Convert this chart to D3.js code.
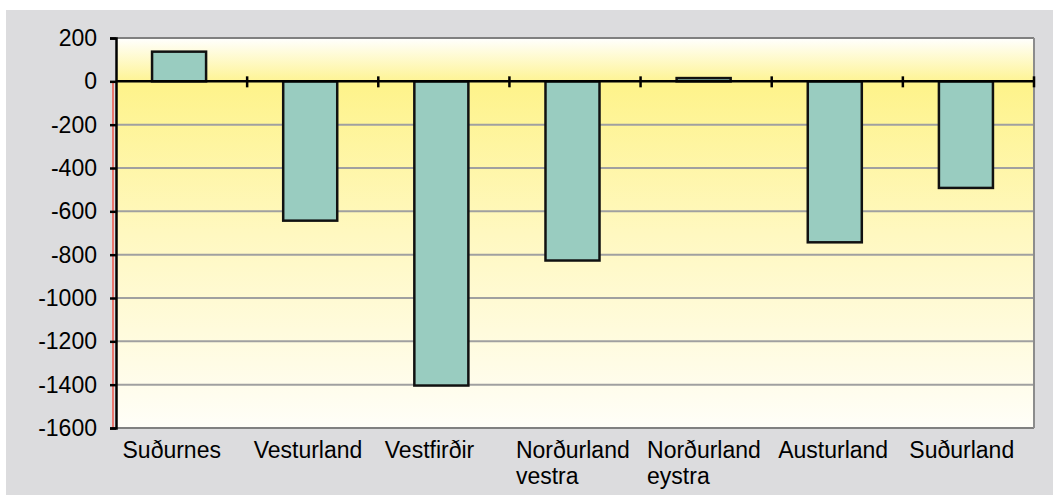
<!DOCTYPE html>
<html>
<head>
<meta charset="utf-8">
<script src="https://cdn.jsdelivr.net/npm/d3@7"></script>
<style>
  body { margin: 0; background: #fff; }
  text { font-family: "Liberation Sans", Arial, sans-serif; fill: #000; }
</style>
</head>
<body>
<script>
// regions and their values
var regions = ["Suðurnes", "Vesturland", "Vestfirðir", "Norðurland vestra", "Norðurland eystra", "Austurland", "Suðurland"];
var values = [137, -643, -1404, -827, 15, -743, -492];
var yTicks = [200, 0, -200, -400, -600, -800, -1000, -1200, -1400, -1600];

var width = 1053, height = 495;
var plotLeft = 116, plotRight = 1034, plotTop = 38, plotBottom = 428;
var fontSize = 23;

var svg = d3.select("body").append("svg")
    .attr("width", width)
    .attr("height", height);

// grey frame
svg.append("rect")
    .attr("x", 6).attr("y", 10)
    .attr("width", width - 6).attr("height", height - 10)
    .attr("fill", "#dcdcde");

var defs = svg.append("defs");
var grad = defs.append("linearGradient")
    .attr("id", "bg").attr("x1", 0).attr("y1", 0).attr("x2", 0).attr("y2", 1);
grad.append("stop").attr("offset", "0").attr("stop-color", "#ffffff");
grad.append("stop").attr("offset", "0.12").attr("stop-color", "#fef38b");
grad.append("stop").attr("offset", "0.5").attr("stop-color", "#fff8c0");
grad.append("stop").attr("offset", "1").attr("stop-color", "#fffef8");

var x = d3.scaleBand()
    .domain(regions)
    .range([plotLeft, plotRight])
    .paddingInner(0.588)
    .paddingOuter(0.294);

var y = d3.scaleLinear()
    .domain([-1600, 200])
    .range([plotBottom, plotTop]);

// plot background
svg.append("rect")
    .attr("x", plotLeft).attr("y", plotTop)
    .attr("width", plotRight - plotLeft).attr("height", plotBottom - plotTop)
    .attr("fill", "url(#bg)");

// gridlines
svg.selectAll(".grid")
    .data(yTicks.filter(function(d){ return d !== 0; }))
    .enter().append("line")
    .attr("class", "grid")
    .attr("x1", plotLeft).attr("x2", plotRight)
    .attr("y1", function(d){ return y(d); })
    .attr("y2", function(d){ return y(d); })
    .attr("stroke", function(d){ return (d === 200 || d === -1600) ? "#808080" : "#a0a0a0"; })
    .attr("stroke-width", 2);

// right border
svg.append("line")
    .attr("x1", plotRight).attr("x2", plotRight)
    .attr("y1", plotTop).attr("y2", plotBottom)
    .attr("stroke", "#8c8c8c").attr("stroke-width", 2);

// bars (nudged a little left, as in the original)
svg.selectAll(".bar")
    .data(values)
    .enter().append("rect")
    .attr("class", "bar")
    .attr("x", function(d, i){ return x(regions[i]) - 2.5; })
    .attr("width", x.bandwidth())
    .attr("y", function(d){ return y(Math.max(0, d)); })
    .attr("height", function(d){ return Math.abs(y(d) - y(0)); })
    .attr("fill", "#99ccc0")
    .attr("stroke", "#111")
    .attr("stroke-width", 2.5);

// red line beside the axis
svg.append("line")
    .attr("x1", plotLeft - 3).attr("x2", plotLeft - 3)
    .attr("y1", y(0)).attr("y2", plotBottom)
    .attr("stroke", "#e8776f").attr("stroke-width", 2);

// y axis
var yAxis = d3.axisLeft(y)
    .tickValues(yTicks)
    .tickSize(6)
    .tickPadding(13)
    .tickFormat(function(d){ return String(d); });

var gy = svg.append("g")
    .attr("transform", "translate(" + plotLeft + ",0)")
    .call(yAxis);
gy.select(".domain").attr("stroke", "#000").attr("stroke-width", 2.5);
gy.selectAll(".tick line").attr("stroke", "#000").attr("stroke-width", 2.5);
gy.selectAll(".tick text")
    .attr("font-size", fontSize)
    .attr("fill", "#000");

// zero line with category ticks
svg.append("line")
    .attr("x1", plotLeft).attr("x2", plotRight)
    .attr("y1", y(0)).attr("y2", y(0))
    .attr("stroke", "#000").attr("stroke-width", 2.5);

svg.selectAll(".xtick")
    .data(regions)
    .enter().append("line")
    .attr("class", "xtick")
    .attr("x1", function(d){ return x(d) - x.step() * x.paddingOuter() + x.step(); })
    .attr("x2", function(d){ return x(d) - x.step() * x.paddingOuter() + x.step(); })
    .attr("y1", y(0) - 5).attr("y2", y(0) + 6)
    .attr("stroke", "#000").attr("stroke-width", 2.5);

// category labels, wrapped onto two lines
var labels = svg.selectAll(".xlabel")
    .data(regions)
    .enter().append("text")
    .attr("class", "xlabel")
    .attr("font-size", fontSize)
    .attr("y", 458);

labels.each(function(d){
    var words = d.split(" ");
    var t = d3.select(this);
    var left = x(d) - x.step() * x.paddingOuter() + 6.5;
    t.attr("x", left);
    t.append("tspan").attr("x", left).text(words[0]);
    if (words.length > 1) {
        t.append("tspan").attr("x", left).attr("dy", 26).text(words.slice(1).join(" "));
    }
});
</script>
</body>
</html>
